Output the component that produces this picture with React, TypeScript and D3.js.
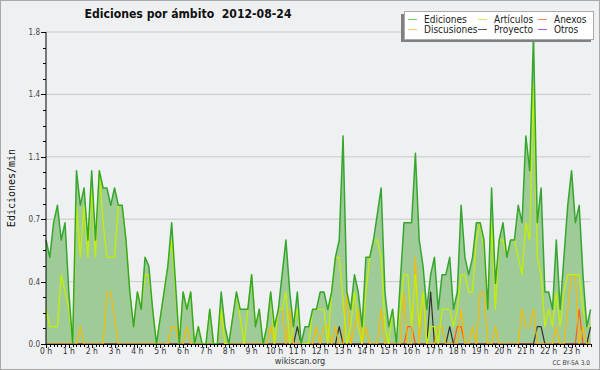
import React from 'react';
import * as d3 from 'd3';

// one value every 10 minutes (edits per minute), 2012-08-24
const ediciones = [
  0.6, 0.5, 0.7, 0.8, 0.6, 0.7, 0.3, 0, 1.0, 0.8,
  0.9, 0.6, 1.0, 0.6, 1.0, 0.9, 0.9, 0.8, 0.9, 0.8,
  0.8, 0.6, 0.3, 0.1, 0.3, 0.2, 0.5, 0.45, 0.2, 0,
  0.15, 0.3, 0.45, 0.7, 0.35, 0, 0.3, 0.2, 0.3, 0,
  0.1, 0, 0, 0.2, 0, 0, 0.3, 0.1, 0, 0.15,
  0.3, 0.2, 0.2, 0.2, 0.4, 0.1, 0.2, 0, 0.1, 0.3,
  0.1, 0.2, 0.4, 0.6, 0.3, 0.1, 0.3, 0, 0.1, 0.1,
  0.2, 0.2, 0.3, 0.3, 0.2, 0.3, 0.5, 0.6, 1.2, 0.3,
  0.2, 0.4, 0.3, 0.1, 0.5, 0.5, 0.6, 0.75, 0.9, 0.3,
  0.1, 0.2, 0, 0.35, 0.7, 0.7, 0.7, 1.1, 0.6, 0.45,
  0.2, 0.4, 0.5, 0.2, 0.4, 0.4, 0.5, 0.2, 0.3, 0.8,
  0.5, 0.4, 0.5, 0.7, 0.7, 0.6, 0.2, 0.9, 0.35, 0.6,
  0.7, 0.5, 0.6, 0.6, 0.8, 0.7, 1.2, 1.0, 1.78, 0.7,
  0.9, 0.3, 0.3, 0.2, 0.6, 0.2, 0.5, 0.8, 1.0, 0.7,
  0.8, 0.4, 0.1, 0.2,
];
const articulos = [
  0.2, 0.1, 0.1, 0.1, 0.4, 0.3, 0.2, 0, 0.8, 0.5,
  0.8, 0.5, 0.9, 0.5, 1.0, 0.7, 0.5, 0.5, 0.5, 0.8,
  0.8, 0.6, 0.3, 0.1, 0.3, 0.2, 0.4, 0.4, 0.2, 0,
  0.15, 0.3, 0.45, 0.6, 0.3, 0, 0.3, 0.2, 0.3, 0,
  0.1, 0, 0, 0.2, 0, 0, 0.2, 0, 0, 0.15,
  0.3, 0.15, 0, 0.2, 0.4, 0.1, 0.2, 0, 0.1, 0.3,
  0, 0.2, 0.2, 0.3, 0, 0.1, 0.2, 0, 0, 0,
  0.2, 0.2, 0.2, 0.2, 0, 0.3, 0.5, 0.5, 0.25, 0,
  0.1, 0.3, 0.1, 0, 0.3, 0.5, 0.6, 0.6, 0.5, 0.1,
  0, 0.2, 0, 0.2, 0.4, 0.4, 0.1, 0.4, 0.1, 0.3,
  0, 0.1, 0.1, 0, 0.2, 0.2, 0.2, 0.1, 0.2, 0.4,
  0.4, 0.3, 0.3, 0.6, 0.7, 0.55, 0.2, 0.7, 0.2, 0.6,
  0.6, 0.5, 0.6, 0.6, 0.5, 0.4, 0.7, 0.6, 1.5, 0.5,
  0.4, 0.1, 0.2, 0.1, 0.3, 0.1, 0.3, 0.4, 0.4, 0.4,
  0.4, 0.2, 0.1, 0.1,
];
const discusiones = [
  0, 0, 0, 0, 0, 0, 0, 0, 0, 0.1,
  0, 0, 0, 0, 0, 0, 0.3, 0.3, 0.15, 0,
  0, 0, 0, 0, 0, 0, 0, 0, 0, 0,
  0, 0, 0, 0.1, 0.1, 0, 0, 0.1, 0, 0,
  0, 0, 0, 0, 0, 0, 0.2, 0, 0, 0,
  0, 0, 0, 0, 0, 0, 0, 0, 0, 0.1,
  0, 0.2, 0.2, 0, 0.2, 0, 0, 0, 0, 0,
  0, 0.1, 0, 0.1, 0.1, 0, 0.1, 0, 0, 0.3,
  0, 0.1, 0.2, 0, 0.1, 0, 0, 0, 0.2, 0,
  0, 0, 0, 0, 0.3, 0, 0, 0.5, 0, 0.3,
  0, 0, 0, 0.1, 0.1, 0, 0, 0, 0, 0.2,
  0, 0, 0.1, 0, 0.3, 0.3, 0, 0, 0.1, 0,
  0, 0, 0, 0, 0, 0.2, 0.1, 0.1, 0.2, 0,
  0, 0, 0, 0, 0.1, 0, 0, 0.2, 0.4, 0.4,
  0, 0.1, 0, 0,
];
const proyecto = d3.range(144).map(() => 0);
[[66, 0.1], [77, 0.1], [101, 0.3], [106, 0.1], [129, 0.1], [130, 0.1], [143, 0.1]]
  .forEach(([i, v]) => { proyecto[i] = v; });
const anexos = d3.range(144).map(() => 0);
[[95, 0.1], [96, 0.1], [108, 0.1], [109, 0.1], [140, 0.2]]
  .forEach(([i, v]) => { anexos[i] = v; });
const otros = d3.range(144).map(() => 0);

const hourLabels = d3.range(24).map((h) => `${h} h`);
const yTicks = [0, 0.36, 0.72, 1.08, 1.44, 1.8];

const legend = [
  { name: 'Ediciones', color: '#7ccf74', col: 0, row: 0 },
  { name: 'Artículos', color: '#c8f050', col: 1, row: 0 },
  { name: 'Anexos', color: '#f5875a', col: 2, row: 0 },
  { name: 'Discusiones', color: '#f5cc50', col: 0, row: 1 },
  { name: 'Proyecto', color: '#555555', col: 1, row: 1 },
  { name: 'Otros', color: '#a060f0', col: 2, row: 1 },
];
const legendCols = [408, 478, 538];

const W = 600;
const H = 370;
const left = 46;
const right = 590.6;
const top = 32;
const bottom = 344;

const font = '"DejaVu Sans Condensed", "DejaVu Sans", sans-serif';

export default function App() {
  const x = d3.scaleLinear().domain([0, 143]).range([left, right]);
  const y = d3.scaleLinear().domain([0, 1.8]).range([bottom, top]);

  const line = d3.line<number>().x((_, i) => x(i)).y((d) => y(d));
  const area = d3.area<number>().x((_, i) => x(i)).y0(y(0)).y1((d) => y(d));

  const series = [
    { data: otros, color: '#9933ff', w: 1.2 },
    { data: anexos, color: '#ff5a1a', w: 1.2 },
    { data: proyecto, color: '#333333', w: 1.2 },
    { data: discusiones, color: '#f7bb00', w: 1.2 },
    { data: articulos, color: '#c4f000', w: 1.3 },
  ];

  const minorY = d3.range(0, 1.8001, 0.09);
  const minorX = d3.range(0, 144);

  return (
    <svg width={W} height={H} style={{ position: 'absolute', left: 0, top: 0 }}>
      <rect x={0.5} y={0.5} width={W - 1} height={H - 1} fill="#eff0f1" stroke="#a8a8a8" />
      <text x={188} y={18} textAnchor="middle" fontFamily={font} fontWeight="bold"
        fontSize={13} fill="#111" textLength={207} lengthAdjust="spacingAndGlyphs"
        style={{ whiteSpace: 'pre' }}>
        {'Ediciones por ámbito  2012-08-24'}
      </text>

      {yTicks.slice(1).map((t) => (
        <line key={t} x1={left} x2={right} y1={y(t)} y2={y(t)} stroke="#c9c9c9" />
      ))}

      <path d={area(ediciones) || ''} fill="#9fcb98" />
      {series.map((s, k) => (
        <path key={k} d={line(s.data) || ''} fill="none" stroke={s.color} strokeWidth={s.w}
          strokeLinejoin="round" />
      ))}
      <path d={line(ediciones) || ''} fill="none" stroke="#35a62e" strokeWidth={1.5}
        strokeLinejoin="round" />

      {/* axes */}
      <line x1={left} x2={left} y1={top} y2={bottom} stroke="#000" />
      <line x1={left} x2={right} y1={bottom + 0.5} y2={bottom + 0.5} stroke="#000" />
      {minorY.map((t, k) => (
        <line key={k} x1={left - (k % 4 === 0 ? 5 : 3)} x2={left} y1={Math.round(y(t)) + 0.5}
          y2={Math.round(y(t)) + 0.5} stroke="#000" />
      ))}
      {yTicks.map((t) => (
        <text key={t} x={left - 6} y={y(t) + 3} textAnchor="end" fontFamily={font}
          fontSize={8} fill="#444">{d3.format('.1f')(t)}</text>
      ))}
      {minorX.map((i) => (
        <line key={i} x1={Math.round(x(i)) + 0.5} x2={Math.round(x(i)) + 0.5} y1={bottom}
          y2={bottom + (i % 6 === 0 ? 4 : 3)} stroke="#000" />
      ))}
      {hourLabels.map((h, k) => (
        <text key={h} x={x(k * 6)} y={354} textAnchor="middle" fontFamily={font}
          fontSize={8.5} fill="#333">{h}</text>
      ))}

      <text transform={`translate(15,${(top + bottom) / 2}) rotate(-90)`} textAnchor="middle"
        fontFamily='"DejaVu Sans Mono", monospace' fontSize={10} fill="#111">Ediciones/min</text>
      <text x={300} y={364} textAnchor="middle" fontFamily={font} fontSize={9} fill="#333">
        wikiscan.org
      </text>
      <text x={590} y={365} textAnchor="end" fontFamily={font} fontSize={6.5} fill="#444">
        CC BY-SA 3.0
      </text>

      {/* legend */}
      <rect x={401} y={14} width={190} height={28} fill="#808080" />
      <rect x={404.5} y={11.5} width={189} height={28} fill="#fff" stroke="#aaa" />
      {legend.map((l) => {
        const lx = legendCols[l.col];
        const ly = 19.5 + l.row * 10;
        return (
          <g key={l.name}>
            <line x1={lx} x2={lx + 9} y1={ly} y2={ly} stroke={l.color} />
            <text x={lx + 16} y={ly + 3.5} fontFamily={font} fontSize={10} fill="#222">
              {l.name}
            </text>
          </g>
        );
      })}
    </svg>
  );
}
